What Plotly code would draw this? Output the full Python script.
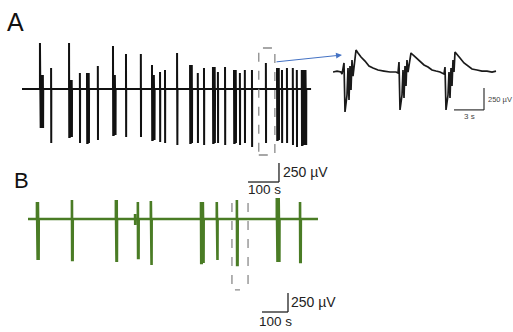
import plotly.graph_objects as go

W, H = 513, 332

# ---------------- Panel A: long recording (time in s, amplitude in µV) ----------------
A_T = [58, 94, 152, 187, 210, 245, 294, 336, 384, 420, 446, 462, 501, 543, 568, 588,
       617, 633, 656, 685, 704, 720, 743, 788, 824, 840, 856, 875, 888, 904]
A_UP = [589, 269, 589, 205, 205, 294, 550, 448, 448, 307, 218, 243, 461, 307, 205, 269,
        282, 218, 282, 243, 205, 243, 243, 333, 269, 243, 269, 269, 243, 243]
A_DOWN = [-499, -691, -614, -691, -691, -653, -589, -614, -614, -653, -678, -691, -717, -691, -691, -717,
          -691, -691, -717, -691, -717, -691, -742, -691, -653, -691, -691, -717, -742, -717]
A_BODY = [179, 269, 115, 205, 205, 294, 179, 448, 448, 179, 218, 243, 461, 307, 205, 269,
          282, 218, 282, 243, 205, 243, 243, 333, 269, 243, 269, 269, 243, 243]
A_DUR = [11, 1, 10, 1, 7, 1, 9, 1, 1, 9, 1, 1, 2, 7, 1, 1,
         7, 1, 1, 7, 1, 1, 1, 1, 7, 1, 1, 1, 1, 15]
A_END = 934
A_ZOOM = (765, 817)          # dashed window (s)
A_ZOOM_V = (-845, 525)       # dashed window (µV)

# ---------------- Inset: expanded view (time in s, amplitude in µV) ----------------
INSET_T = [0.0, 0.4, 0.8, 0.9, 1.1, 1.2, 1.4, 1.5, 1.6, 1.7, 1.8, 1.9, 2.0, 2.3, 2.5, 2.8, 3.2, 3.6,
           4.0, 4.5, 5.1, 5.7, 6.3, 6.5,
           6.6, 6.7, 6.9, 7.0, 7.1, 7.2, 7.3, 7.4, 7.5, 7.8, 8.0, 8.3, 8.7, 9.1, 9.5, 9.9, 10.3, 10.7, 11.1,
           11.2, 11.3, 11.5, 11.6, 11.7, 11.8, 11.9, 12.0, 12.1, 12.2, 12.4, 12.7, 13.1, 13.5, 13.9, 14.4,
           14.9, 15.4, 15.9, 16.3]
INSET_V = [0, 11, 0, -23, 103, -456, -262, 46, -319, 68, -205, 137, -46, 251, 217, 171, 125, 68,
           46, 23, 11, 0, 0, -11,
           114, -433, -262, 23, -296, 68, -160, 137, 0, 217, 194, 160, 114, 80, 57, 23, 11, 0, -23,
           57, -433, -262, 0, -296, 46, -160, 137, 0, 228, 205, 160, 103, 68, 34, 23,
           11, 11, 0, 11]

# ---------------- Panel B: second recording ----------------
B_T = [29, 142, 284, 346, 355, 397, 559, 610, 675, 804, 879]
B_UP = [224, 250, 250, 66, 224, 237, 224, 224, 250, 276, 224]
B_DOWN = [-540, -540, -566, -79, -513, -605, -579, -540, -605, -566, -566]
B_DUR = [6, 3, 4, 1, 3, 3, 9, 3, 3, 9, 3]
B_END = 937
B_ZOOM = (659, 711)
B_ZOOM_V = (-934, 211)

# scale bars
SCALE_UV = 250
SCALE_S_MAIN = 100
SCALE_S_INSET = 3


def build(times, ups, downs, durs, bodies, end):
    xs, ys = [0], [0]
    for t, u, d, w, b in zip(times, ups, downs, durs, bodies):
        n = max(1, int(round(w / 1.5)))
        step = w / (2 * n)
        xs += [t, t]
        ys += [0, u]
        cur = t
        for k in range(n):
            cur += step
            xs.append(cur)
            ys.append(d)
            if k < n - 1:
                cur += step
                xs.append(cur)
                ys.append(b)
        xs.append(cur + step * 0.5)
        ys.append(0)
    xs.append(end)
    ys.append(0)
    return xs, ys


ax_x, ax_y = build(A_T, A_UP, A_DOWN, A_DUR, A_BODY, A_END)
bx_x, bx_y = build(B_T, B_UP, B_DOWN, B_DUR, B_UP, B_END)

GREEN = "#4a7c25"
FONT = "Liberation Sans, Arial, sans-serif"

fig = go.Figure()
fig.add_trace(go.Scatter(x=ax_x, y=ax_y, mode="lines", line=dict(color="#111111", width=2),
                         xaxis="x", yaxis="y", hoverinfo="skip"))
fig.add_trace(go.Scatter(x=INSET_T, y=INSET_V, mode="lines", line=dict(color="#1a1a1a", width=1.7),
                         xaxis="x2", yaxis="y2", hoverinfo="skip"))
fig.add_trace(go.Scatter(x=bx_x, y=bx_y, mode="lines", line=dict(color=GREEN, width=2.6),
                         xaxis="x3", yaxis="y3", hoverinfo="skip"))


def px(v):
    return v / W


def py(v):
    return 1 - v / H


hidden = dict(visible=False, fixedrange=True)
fig.update_layout(
    width=W, height=H, margin=dict(l=0, r=0, t=0, b=0),
    paper_bgcolor="white", plot_bgcolor="rgba(0,0,0,0)", showlegend=False,
    xaxis=dict(domain=[px(22), px(312)], range=[0, 937], anchor="y", **hidden),
    yaxis=dict(domain=[py(165), py(38)], range=[-973, 653], anchor="x", **hidden),
    xaxis2=dict(domain=[px(333), px(500)], range=[0, 16.7], anchor="y2", **hidden),
    yaxis2=dict(domain=[py(122), py(40)], range=[-570, 365], anchor="x2", **hidden),
    xaxis3=dict(domain=[px(28), px(322)], range=[0, 950], anchor="y3", **hidden),
    yaxis3=dict(domain=[py(300), py(158)], range=[-1066, 803], anchor="x3", **hidden),
)

dash = dict(color="#8a8a8a", width=1.3, dash="dash")
shapes = [
    # dashed window in A
    dict(type="rect", xref="x", yref="y", x0=A_ZOOM[0], x1=A_ZOOM[1], y0=A_ZOOM_V[0], y1=A_ZOOM_V[1],
         line=dash),
    # dashed window in B (open top)
    dict(type="path", xref="x3", yref="y3",
         path=f"M{B_ZOOM[0]},{B_ZOOM_V[1]} L{B_ZOOM[0]},{B_ZOOM_V[0]} L{(B_ZOOM[0] + B_ZOOM[1]) / 2},{B_ZOOM_V[0]}",
         line=dash),
    dict(type="line", xref="x3", yref="y3", x0=B_ZOOM[1], x1=B_ZOOM[1], y0=B_ZOOM_V[1], y1=B_ZOOM_V[0] + 40,
         line=dash),
    # inset scale bar
    dict(type="line", xref="x2", yref="y2", x0=15.1 - SCALE_S_INSET, x1=15.1, y0=-432, y1=-432,
         line=dict(color="#333", width=1.2)),
    dict(type="line", xref="x2", yref="y2", x0=15.1, x1=15.1, y0=-432, y1=-432 + SCALE_UV,
         line=dict(color="#333", width=1.2)),
    # B scale bar (top)
    dict(type="line", xref="x3", yref="y3", x0=811 - SCALE_S_MAIN, x1=811, y0=487, y1=487,
         line=dict(color="#222", width=1.3)),
    dict(type="line", xref="x3", yref="y3", x0=811, x1=811, y0=487, y1=487 + SCALE_UV,
         line=dict(color="#222", width=1.3)),
    # bottom scale bar (paper)
    dict(type="line", xref="paper", yref="paper", x0=px(262), x1=px(288), y0=py(312), y1=py(312),
         line=dict(color="#222", width=1.3)),
    dict(type="line", xref="paper", yref="paper", x0=px(288), x1=px(288), y0=py(312), y1=py(293),
         line=dict(color="#222", width=1.3)),
]
fig.update_layout(shapes=shapes)


def label(text, x, y, size, color="#222", xanchor="center", xref="paper", yref="paper"):
    return dict(text=text, x=x, y=y, xref=xref, yref=yref, showarrow=False,
                xanchor=xanchor, yanchor="middle",
                font=dict(family=FONT, size=size, color=color))


ann = [
    label("A", px(15), py(22), 25, "#111"),
    label("B", px(21), py(180), 22, "#111"),
    # arrow from window to inset
    dict(text="", x=px(342), y=py(55), xref="paper", yref="paper", showarrow=True,
         ax=-67, ay=7, arrowhead=2, arrowsize=1.2, arrowwidth=1, arrowcolor="#4472c4"),
    # inset scale labels
    label(f"{SCALE_UV} µV", 15.25, -318, 7.5, "#444", "left", "x2", "y2"),
    label(f"{SCALE_S_INSET} s", 13.6, -513, 8, "#444", "center", "x2", "y2"),
    # B top scale labels
    label(f"{SCALE_UV} µV", px(281), py(172), 14, "#222", "left"),
    label(f"{SCALE_S_MAIN} s", px(264), py(189), 13.5, "#222"),
    # bottom scale labels
    label(f"{SCALE_UV} µV", px(289), py(302), 14, "#222", "left"),
    label(f"{SCALE_S_MAIN} s", px(275), py(321), 13.5, "#222"),
]
fig.update_layout(annotations=ann)

fig.write_html("out.html", config={"displayModeBar": False},
               post_script="document.body.style.margin='0';")
